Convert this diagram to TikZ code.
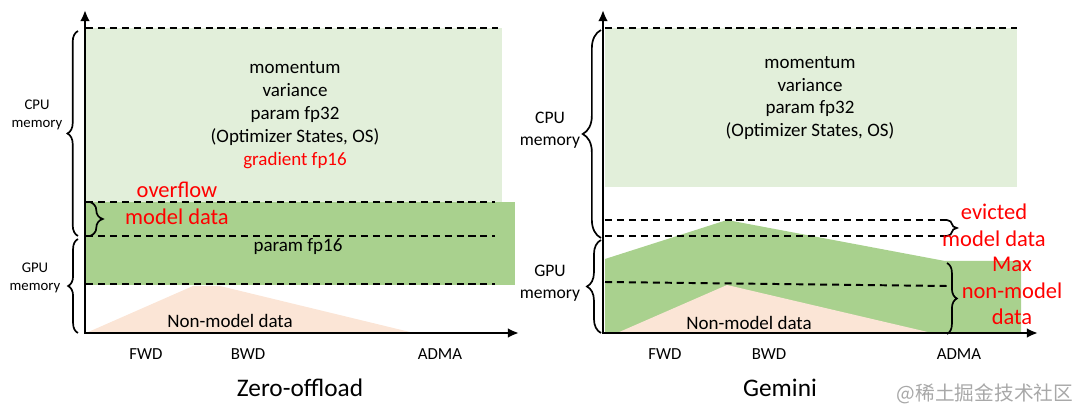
\documentclass[tikz,border=0pt]{standalone}
\usepackage{fontspec}
\setmainfont{Carlito}
\newfontfamily\cjk{Noto Sans CJK SC}
\usetikzlibrary{decorations.pathreplacing,arrows.meta}
\definecolor{osgreen}{HTML}{E2EFDA}
\definecolor{mdgreen}{HTML}{A9D18E}
\definecolor{nmpeach}{HTML}{FBE5D6}
\definecolor{wmgray}{HTML}{A8A8A8}
\begin{document}
\begin{tikzpicture}[x=0.025cm,y=-0.025cm,
		axis/.style={line width=2.1pt,-{Latex[length=8pt,width=7pt]}},
		level/.style={line width=1.4pt,dash pattern=on 5pt off 3.5pt},
		brace/.style={decorate,decoration={brace,amplitude=#1},line width=1.2pt},
		txt/.style={align=center,font=\fontsize{13.5}{16.3}\selectfont},
		redtxt/.style={align=center,text=red,font=\fontsize{16}{19}\selectfont},
		smallmem/.style={align=center,font=\fontsize{10.5}{13}\selectfont},
		bigmem/.style={align=center,font=\fontsize{12.5}{16}\selectfont},
		ticktxt/.style={font=\fontsize{12}{14}\selectfont},
		titletxt/.style={font=\fontsize{18}{21}\selectfont}]
		\useasboundingbox (0,0) rectangle (1080,419);
		% Zero-offload
		\fill[osgreen] (86,28) rectangle (502,202);
		\fill[mdgreen] (86,202) rectangle (515,285);
		\fill[nmpeach] (86,333) -- (193,286) -- (220,286) -- (414,333) -- cycle;
		\draw[level] (86,28) -- (498,28);
		\draw[level] (86,202) -- (495,202);
		\draw[level] (86,236) -- (495,236);
		\draw[level] (86,284) -- (495,284);
		\draw[axis] (85,334) -- (85,10);
		\draw[axis] (84,333) -- (519,333);
		\draw[brace=7.5pt] (78,236) -- (78,31);
		\draw[brace=7pt] (78,333) -- (78,239);
		\draw[brace=9pt] (90,202) -- (90,236);
		\node[txt] (zostates) at (295,115) {momentum\\variance\\param fp32\\(Optimizer States, OS)\\\textcolor{red}{gradient fp16}};
		\node[redtxt] (zoover) at (177,203) {overflow\\model data};
		\node[txt] (zofp16) at (298,247) {param fp16};
		\node[txt] (zonm) at (230,321) {Non-model data};
		\node[smallmem] (zocpu) at (37,115) {CPU\\memory};
		\node[smallmem] (zogpu) at (35,278) {GPU\\memory};
		\node[ticktxt] (zofwd) at (146,354) {FWD};
		\node[ticktxt] (zobwd) at (248,354) {BWD};
		\node[ticktxt] (zoadma) at (440,354) {ADMA};
		\node[titletxt] (zotitle) at (300,388) {Zero-offload};
		% Gemini
		\fill[osgreen] (605,28) rectangle (1017,187);
		\fill[mdgreen] (605,333) -- (605,259) -- (727,220) -- (945,261) -- (1021,261) -- (1021,333) -- cycle;
		\fill[nmpeach] (617,333) -- (727,285) -- (932,333) -- cycle;
		\draw[level] (605,28) -- (1017,28);
		\draw[level] (605,220) -- (947,220);
		\draw[level] (605,236) -- (947,236);
		\draw[level] (605,282) -- (947,286);
		\draw[axis] (603,334) -- (603,10);
		\draw[axis] (602,333) -- (1038,333);
		\draw[brace=13pt] (601,238) -- (601,30);
		\draw[brace=10pt] (601,333) -- (601,240);
		\draw[brace=7pt] (947,220) -- (947,236);
		\draw[brace=7pt] (947,263) -- (947,334);
		\node[txt] (gmstates) at (810,98) {momentum\\variance\\param fp32\\(Optimizer States, OS)};
		\node[redtxt] (gmevict) at (994,225) {evicted\\model data};
		\node[redtxt] (gmmax) at (1012,291) {Max\\non-model\\data};
		\node[txt] (gmnm) at (749,323) {Non-model data};
		\node[bigmem] (gmcpu) at (550,130) {CPU\\memory};
		\node[bigmem] (gmgpu) at (550,283) {GPU\\memory};
		\node[ticktxt] (gmfwd) at (665,354) {FWD};
		\node[ticktxt] (gmbwd) at (769,354) {BWD};
		\node[ticktxt] (gmadma) at (959,354) {ADMA};
		\node[titletxt] (gmtitle) at (780,388) {Gemini};
		\node[text=wmgray,font=\cjk\fontsize{14}{16}\selectfont] (mark) at (985,394) {@稀土掘金技术社区};
	\end{tikzpicture}
\end{document}
